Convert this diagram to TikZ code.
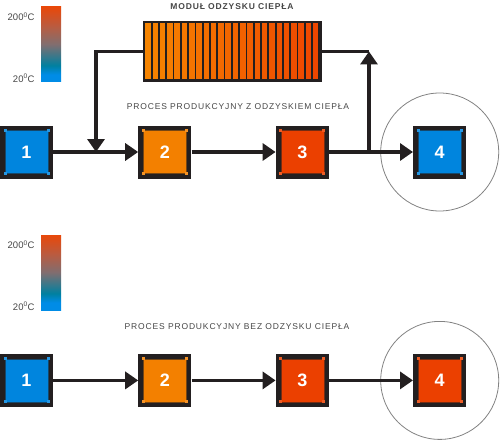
\documentclass[tikz,border=0pt]{standalone}
\usepackage{fontspec}
\setmainfont{Liberation Sans}
\newfontfamily\spacedfont[LetterSpace=10]{Liberation Sans}
\usepackage{xcolor}
\usepackage{tikz}
\usetikzlibrary{arrows.meta, positioning, calc, shapes.geometric}
\definecolor{boxdark}{RGB}{35,31,32}
\definecolor{procblue}{RGB}{0,133,222}
\definecolor{procorange}{RGB}{243,128,0}
\definecolor{procred}{RGB}{235,64,0}
\definecolor{modorange}{RGB}{246,132,0}
\definecolor{modred}{RGB}{238,70,0}
\definecolor{textgray}{RGB}{70,70,70}
\definecolor{ringgray}{RGB}{130,130,130}
\definecolor{legred}{RGB}{232,72,10}
\definecolor{legbrown}{RGB}{185,92,65}
\definecolor{leggray}{RGB}{128,110,112}
\definecolor{legteal}{RGB}{0,128,160}
\definecolor{legblue}{RGB}{0,140,230}
\pgfdeclareverticalshading{heatbar}{100bp}{color(0bp)=(legblue); color(25bp)=(legblue);
  color(30bp)=(legblue); color(36bp)=(legteal); color(50bp)=(leggray);
  color(62bp)=(legbrown); color(75bp)=(legred); color(100bp)=(legred)}
\tikzset{
  proc/.style={rectangle, fill=boxdark, minimum size=53pt, inner sep=0pt, text=white,
    font=\bfseries\fontsize{18}{18}\selectfont,
    path picture={
      \fill[#1, draw=boxdark!60!#1, line width=0.6pt]
        ([shift={(5pt,5pt)}]path picture bounding box.south west) rectangle
        ([shift={(-5pt,-5pt)}]path picture bounding box.north east);
      \foreach \c/\dx/\dy in {south west/3.5/3.5, south east/-6.5/3.5,
                              north west/3.5/-6.5, north east/-6.5/-6.5}
        \fill[#1!85!white] ([shift={(\dx pt,\dy pt)}]path picture bounding box.\c) rectangle ++(3pt,3pt);
    }},
  module/.style={rectangle, fill=boxdark, minimum width=179pt, minimum height=61pt, inner sep=0pt},
  ring/.style={circle, draw=ringgray, line width=0.8pt, minimum size=118pt, inner sep=0pt},
  legbar/.style={rectangle, minimum width=20pt, minimum height=75pt, inner sep=0pt, shading=heatbar},
  leglbl/.style={font=\fontsize{9.5}{10}\selectfont, text=textgray, inner sep=0pt, anchor=east},
  lbl/.style={font=\spacedfont\fontsize{8.5}{10}\selectfont, text=textgray, inner sep=0pt},
  modlbl/.style={font=\spacedfont\bfseries\fontsize{8.5}{10}\selectfont, text=textgray, inner sep=0pt},
  pipe/.style={line width=3.3pt, boxdark},
  flow/.style={pipe, -{Triangle[length=13pt, width=17pt]}}
}
\begin{document}
\begin{tikzpicture}[x=1pt, y=-1pt]
  \useasboundingbox (0,0) rectangle (500,441);
  % legends
  \node[legbar] (leg1) at (51,44.5) {};
  \node[leglbl] (hi1) at ([xshift=-6pt, yshift=-10pt]leg1.north west) {200\textsuperscript{0}C};
  \node[leglbl] (lo1) at ([xshift=-6pt, yshift=4pt]leg1.south west) {20\textsuperscript{0}C};
  \node[legbar] (leg2) at (51,272.5) {};
  \node[leglbl] (hi2) at ([xshift=-6pt, yshift=-10pt]leg2.north west) {200\textsuperscript{0}C};
  \node[leglbl] (lo2) at ([xshift=-6pt, yshift=4pt]leg2.south west) {20\textsuperscript{0}C};
  % heat recovery module
  \node[modlbl] (modt) at (232,7) {MODUŁ ODZYSKU CIEPŁA};
  \node[module] (mod) at (232.5,51.5) {};
  \foreach \i in {0,...,23} {
    \pgfmathsetmacro\mix{100*\i/23}
    \fill[modred!\mix!modorange] ([xshift=2.5pt+\i*7.29pt, yshift=-2.5pt]mod.north west) rectangle ++(5.5pt,-56pt);
  }
  % process with recovery
  \node[lbl] (t1) at (238,107) {PROCES PRODUKCYJNY Z ODZYSKIEM CIEPŁA};
  \node[proc=procblue] (p1) at (26.5,152) {1};
  \node[proc=procorange, right=85pt of p1] (p2) {2};
  \node[proc=procred, right=84pt of p2] (p3) {3};
  \node[proc=procblue, right=84pt of p3] (p4) {4};
  \node[ring] (r1) at (p4) {};
  \coordinate (jin) at (96,152);
  \coordinate (jout) at (369,152);
  \coordinate (mout) at (369,51.5);
  \draw[flow] (p1) -- (p2);
  \draw[flow] (p2) -- (p3);
  \draw[flow] (p3) -- (p4);
  \draw[flow] (mod.west) -| (jin);
  \draw[pipe] (mod.east) -- (mout);
  \draw[flow] (jout) -- (mout);
  % process without recovery
  \node[lbl] (t2) at (237,327) {PROCES PRODUKCYJNY BEZ ODZYSKU CIEPŁA};
  \node[proc=procblue, below=175pt of p1] (q1) {1};
  \node[proc=procorange, right=85pt of q1] (q2) {2};
  \node[proc=procred, right=84pt of q2] (q3) {3};
  \node[proc=procred, right=84pt of q3] (q4) {4};
  \node[ring] (r2) at (q4) {};
  \draw[flow] (q1) -- (q2);
  \draw[flow] (q2) -- (q3);
  \draw[flow] (q3) -- (q4);
\end{tikzpicture}
\end{document}
